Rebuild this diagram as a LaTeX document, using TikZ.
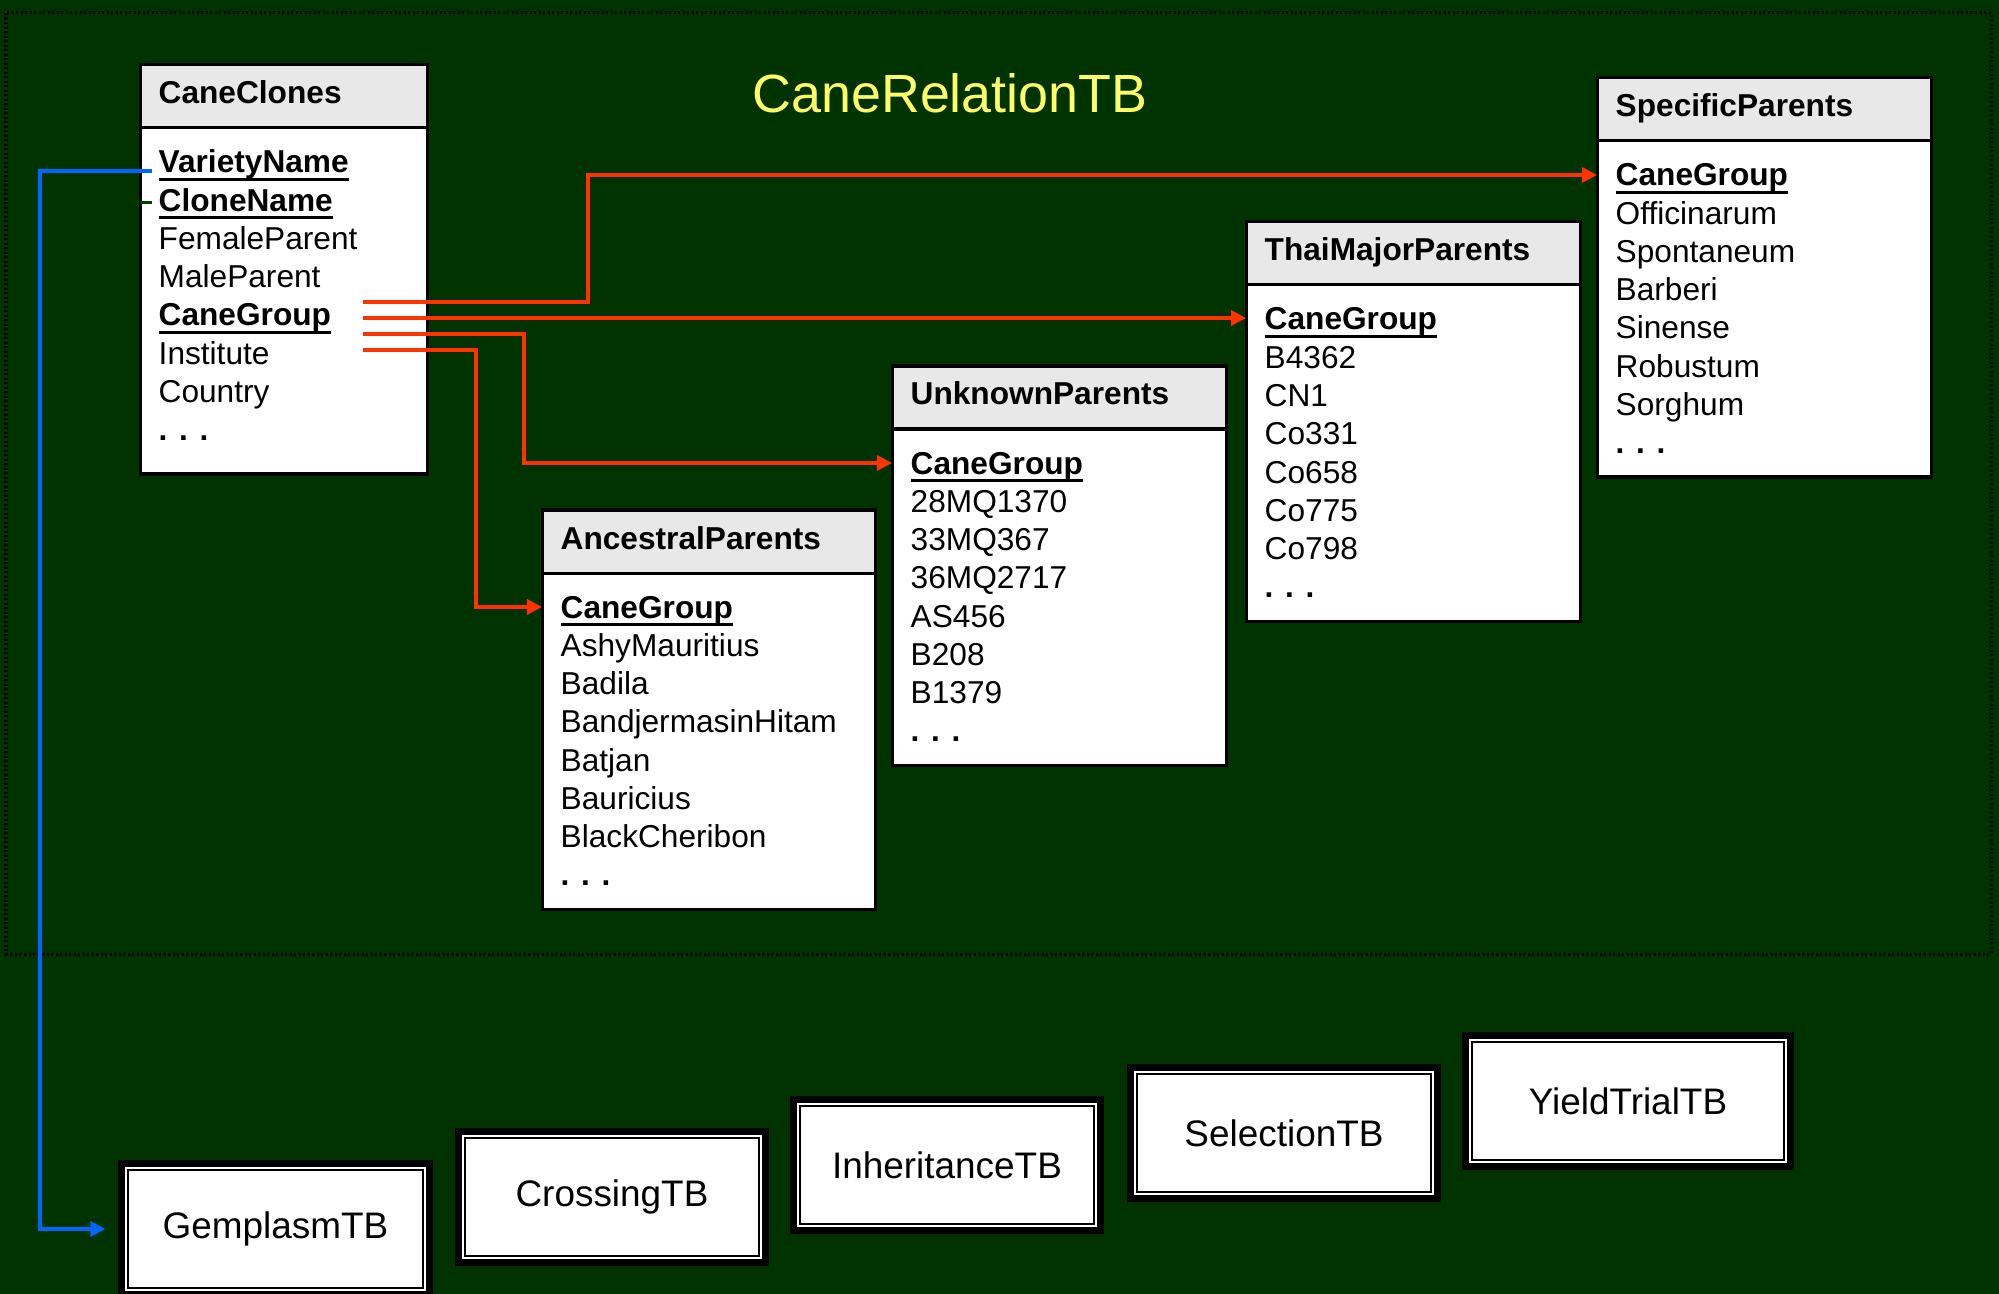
\documentclass[tikz,border=0pt]{standalone}
\usepackage{fontspec}
\setmainfont{Liberation Sans}
\usetikzlibrary{arrows.meta}

\definecolor{bggreen}{RGB}{0,51,0}
\definecolor{stubgreen}{RGB}{0,64,0}
\definecolor{hdrgray}{RGB}{232,232,232}
\definecolor{relred}{RGB}{255,51,0}
\definecolor{linkblue}{RGB}{0,102,255}
\definecolor{titleyellow}{RGB}{255,255,102}

\newlength\keywd
\newcommand\keyfld[1]{\settowidth\keywd{\bfseries #1}{\bfseries #1}\llap{\rule[-0.25em]{\keywd}{0.09em}}}

\tikzset{
  tblline/.style={draw=black, line width=0.03cm},
  hdrtext/.style={anchor=base west, inner sep=0pt, font=\fontsize{9}{11}\selectfont\bfseries},
  rowtext/.style={anchor=base west, inner sep=0pt, font=\fontsize{9}{11}\selectfont},
  titletext/.style={anchor=base, inner sep=0pt, text=titleyellow, font=\fontsize{15.3}{18}\selectfont},
  tbbox/.style={rectangle, fill=white, draw=black, line width=0.02cm,
    minimum width=2.94cm, minimum height=1.17cm, inner sep=0pt,
    font=\fontsize{10.5}{12}\selectfont,
    preaction={draw=black, line width=0.2cm},
    preaction={draw=white, line width=0.06cm}},
  relarrow/.style={draw=relred, line width=0.035cm, -{Triangle[length=0.15cm,width=0.15cm]}},
  linkarrow/.style={draw=linkblue, line width=0.035cm, -{Triangle[length=0.15cm,width=0.15cm]}}
}

% table: name, left, top, width, height, title, fields
\newcommand\canetable[7]{%
  \draw[tblline,fill=hdrgray] (#2,#3) rectangle ++(#4,63);
  \draw[tblline,fill=white] (#2,#3+63) rectangle ++(#4,#5-63);
  \coordinate (#1-in) at (#2,#3+97);
  \node[hdrtext] (#1-hd) at (#2+18,#3+39) {#6};
  \foreach \fld [count=\i from 0] in {#7}
    \node[rowtext] (#1-\i) at (#2+18,#3+108+38.25*\i) {\fld};
}

\begin{document}
\begin{tikzpicture}[x=0.01cm,y=-0.01cm]
\useasboundingbox (0,0) rectangle (1999,1294);
\fill[bggreen] (0,0) rectangle (1999,1294);
\draw[black, line width=0.03cm, dash pattern=on 0.02cm off 0.025cm] (6,13) rectangle (1991,954);

\node[titletext] (title) at (950,113) {CaneRelationTB};

% relation tables
\canetable{clones}{140}{65}{287}{409}{CaneClones}{\keyfld{VarietyName},\keyfld{CloneName},FemaleParent,MaleParent,\keyfld{CaneGroup},Institute,Country,\textbf{. . .}}
\canetable{spec}{1597}{78}{334}{399}{SpecificParents}{\keyfld{CaneGroup},Officinarum,Spontaneum,Barberi,Sinense,Robustum,Sorghum,\textbf{. . .}}
\canetable{thai}{1246}{222}{334}{399}{ThaiMajorParents}{\keyfld{CaneGroup},B4362,CN1,Co331,Co658,Co775,Co798,\textbf{. . .}}
\canetable{unk}{892}{366}{334}{399}{UnknownParents}{\keyfld{CaneGroup},28MQ1370,33MQ367,36MQ2717,AS456,B208,B1379,\textbf{. . .}}
\canetable{anc}{542}{510}{333}{399}{AncestralParents}{\keyfld{CaneGroup},AshyMauritius,Badila,BandjermasinHitam,Batjan,Bauricius,BlackCheribon,\textbf{. . .}}

% other databases
\node[tbbox] (gem) at (275.5,1229) {GemplasmTB};
\node[tbbox] (cross) at (612,1197) {CrossingTB};
\node[tbbox] (inher) at (947,1165) {InheritanceTB};
\node[tbbox] (sel) at (1284,1133) {SelectionTB};
\node[tbbox, minimum width=3.12cm] (yield) at (1628,1101) {YieldTrialTB};

% links
\coordinate (vname) at (152,171);
\coordinate (cname) at (152,203);
\coordinate (cg1) at (363,302);
\coordinate (cg2) at (363,318);
\coordinate (cg3) at (363,334);
\coordinate (cg4) at (363,350);

\draw[relarrow] (cg1) -- ++(225,0) |- (spec-in);
\draw[relarrow] (cg2) -- (cg2 -| thai-in);
\draw[relarrow] (cg3) -- ++(161,0) |- (unk-in);
\draw[relarrow] (cg4) -- ++(113,0) |- (anc-in);
\draw[linkarrow, shorten >=0.22cm] (vname) -- ++(-112,0) |- (gem.west);
\draw[stubgreen, line width=0.03cm] (cname) -- ++(-12,0);
\end{tikzpicture}
\end{document}
